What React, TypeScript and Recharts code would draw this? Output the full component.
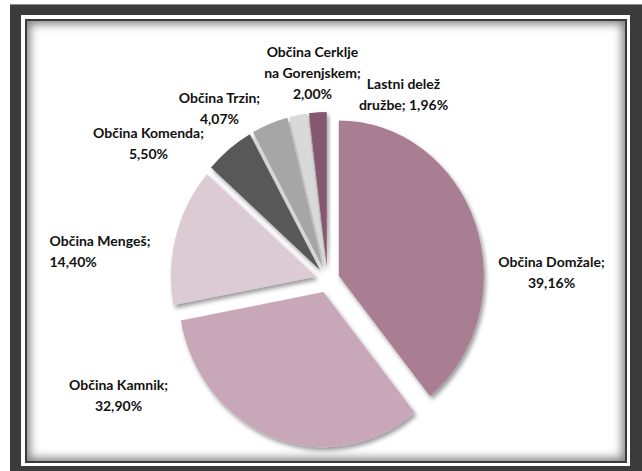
import React from "react";
import { PieChart, Pie, Cell } from "recharts";

// chart data
const CATEGORIES = [
  "Občina Domžale",
  "Občina Kamnik",
  "Občina Mengeš",
  "Občina Komenda",
  "Občina Trzin",
  "Občina Cerklje na Gorenjskem",
  "Lastni delež družbe",
];
const SHARES = [39.16, 32.9, 14.4, 5.5, 4.07, 2.0, 1.96];

// how each data label is broken into lines (percentage is appended)
const LABEL_HEADS = [
  ["Občina Domžale;"],
  ["Občina Kamnik;"],
  ["Občina Mengeš;"],
  ["Občina Komenda;"],
  ["Občina Trzin;"],
  ["Občina Cerklje", "na Gorenjskem;"],
  ["Lastni delež", "družbe;"],
];
const PCT_SAME_LINE = [false, false, false, false, false, false, true];

const COLORS = ["#a97e92", "#c8a8b8", "#dccbd3", "#595959", "#a6a6a6", "#d9d9d9", "#86596f"];

// layout
const W = 642;
const H = 471;
const CX = 327.5;
const CY = 280;
const R = 145;
const STRETCH_Y = 1.07; // the source picture is a little taller than wide
const EXPLODE = 12;
const LINE_H = 21;
// label block centre relative to pie centre
const LABEL_POS: { dx: number; dy: number; anchor: "start" | "middle" }[] = [
  { dx: 224, dy: -9, anchor: "middle" },
  { dx: -209, dy: 114, anchor: "middle" },
  { dx: -278, dy: -30, anchor: "start" },
  { dx: -179, dy: -138, anchor: "middle" },
  { dx: -108, dy: -173, anchor: "middle" },
  { dx: -15, dy: -208, anchor: "middle" },
  { dx: 76, dy: -187, anchor: "middle" },
];

const fmtPct = (v: number) => v.toFixed(2).replace(".", ",") + "%";

const data = CATEGORIES.map((name, i) => ({ name, value: SHARES[i] }));
const total = SHARES.reduce((a, b) => a + b, 0);
// mid angle of each slice, degrees clockwise from 12 o'clock
const midAngles = SHARES.map((v, i) => {
  const before = SHARES.slice(0, i).reduce((a, b) => a + b, 0);
  return ((before + v / 2) / total) * 360;
});

function labelLines(i: number) {
  const head = [...LABEL_HEADS[i]];
  const pct = fmtPct(SHARES[i]);
  if (PCT_SAME_LINE[i]) head[head.length - 1] = head[head.length - 1] + " " + pct;
  else head.push(pct);
  return head;
}

function renderLabel(props: any) {
  const i = props.index;
  const pos = LABEL_POS[i];
  const lines = labelLines(i);
  const x = CX + pos.dx;
  const y0 = CY + pos.dy - ((lines.length - 1) * LINE_H) / 2;
  return (
    <text
      key={"lbl" + i}
      x={x}
      y={y0}
      textAnchor={pos.anchor}
      dominantBaseline="central"
      fontFamily="Lato, 'Open Sans', sans-serif"
      fontWeight={700}
      fontSize={14}
      fill="#111"
    >
      {lines.map((t, k) => (
        <tspan key={k} x={x} y={y0 + k * LINE_H}>
          {t}
        </tspan>
      ))}
    </text>
  );
}

export default function App() {
  return (
    <div style={{ position: "absolute", left: 0, top: 0, width: W, height: H, background: "#fff", overflow: "hidden" }}>
      {/* frame */}
      <div style={{ position: "absolute", left: 10, top: 4, width: 632, height: 480, background: "#3b3b3b", borderTop: "1px solid #8a8a8a", boxSizing: "border-box" }} />
      <div style={{ position: "absolute", left: 21, top: 15, width: 609, height: 451, background: "#fff" }} />
      <div
        style={{
          position: "absolute",
          left: 25,
          top: 19,
          width: 602,
          height: 444,
          boxSizing: "border-box",
          border: "2px solid #3b3b3b",
          background: "#fff",
          boxShadow: "inset 0 0 10px 3px rgba(0,0,0,0.5)",
        }}
      />
      <svg width={0} height={0} style={{ position: "absolute" }}>
        <defs>
          <filter id="sliceShadow" x="-20%" y="-20%" width="140%" height="140%">
            <feDropShadow dx={2} dy={3} stdDeviation={2} floodColor="#000" floodOpacity={0.4} />
          </filter>
        </defs>
      </svg>
      {/* slices */}
      <div
        style={{
          position: "absolute",
          left: 0,
          top: 0,
          transform: `scaleY(${STRETCH_Y})`,
          transformOrigin: `${CX}px ${CY}px`,
        }}
      >
        <PieChart width={W} height={H} margin={{ top: 0, right: 0, bottom: 0, left: 0 }}>
          {data.map((_, i) => {
            const a = (midAngles[i] * Math.PI) / 180;
            return (
              <Pie
                key={i}
                data={data}
                dataKey="value"
                nameKey="name"
                cx={CX + EXPLODE * Math.sin(a)}
                cy={CY - EXPLODE * Math.cos(a)}
                outerRadius={R}
                startAngle={90}
                endAngle={-270}
                stroke="none"
                isAnimationActive={false}
                labelLine={false}
                label={false}
              >
                {data.map((__, j) => (
                  <Cell
                    key={j}
                    fill={j === i ? COLORS[j] : "transparent"}
                    filter={j === i ? "url(#sliceShadow)" : undefined}
                  />
                ))}
              </Pie>
            );
          })}
        </PieChart>
      </div>
      {/* data labels */}
      <div style={{ position: "absolute", left: 0, top: 0 }}>
        <PieChart width={W} height={H} margin={{ top: 0, right: 0, bottom: 0, left: 0 }}>
          <Pie
            data={data}
            dataKey="value"
            nameKey="name"
            cx={CX}
            cy={CY}
            outerRadius={R}
            startAngle={90}
            endAngle={-270}
            stroke="none"
            fill="transparent"
            isAnimationActive={false}
            labelLine={false}
            label={renderLabel}
          >
            {data.map((__, j) => (
              <Cell key={j} fill="transparent" />
            ))}
          </Pie>
        </PieChart>
      </div>
    </div>
  );
}
